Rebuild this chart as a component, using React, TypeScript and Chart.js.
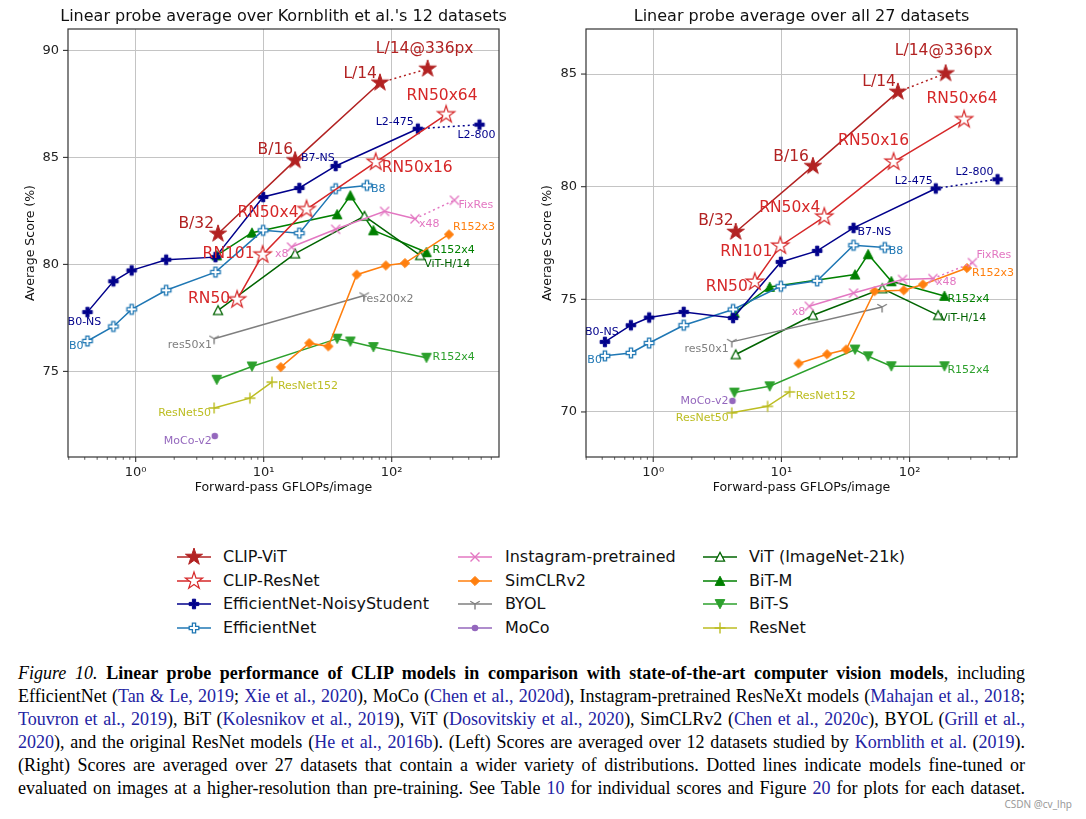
import React, { useEffect, useRef } from 'react';
import { Chart, registerables } from 'chart.js';
Chart.register(...registerables);

// ---------------- data (GFLOPs and average linear-probe scores) ----------------
const clipVitFlops = [4.4, 17.6, 81, 191];
const clipVitK12 = [81.43, 84.86, 88.49, 89.14];
const clipVitA27 = [77.99, 80.91, 84.21, 85.03];

const clipResFlops = [6.2, 9.8, 21.6, 75, 266];
const clipResK12 = [78.35, 80.45, 82.57, 84.78, 87.0];
const clipResA27 = [75.77, 77.37, 78.66, 81.1, 82.98];

const effNsFlops = [0.42, 0.67, 0.93, 1.73, 4.2, 9.9, 19, 36.5, 160, 485];
const effNsK12 = [77.77, 79.21, 79.72, 80.22, 80.34, 83.15, 83.57, 84.6, 86.34, 86.53];
const effNsA27 = [73.11, 73.85, 74.19, 74.44, 74.17, 76.66, 77.15, 78.17, 79.92, 80.33];

const effFlops = [0.42, 0.67, 0.93, 1.73, 4.2, 9.9, 19, 36.5, 64];
const effK12 = [76.42, 77.1, 77.9, 78.79, 79.64, 81.59, 81.46, 83.54, 83.69];
const effA27 = [72.49, 72.62, 73.06, 73.85, 74.55, 75.58, 75.82, 77.4, 77.3];

const igFlops = [16.5, 36.5, 88, 152, 309];
const igK12 = [80.81, 81.64, 82.48, 82.13, 83.0];
const igA27 = [74.69, 75.28, 75.88, 75.92, 76.63];

const simclrFlops = [13.6, 22.7, 32, 53.3, 90, 127, 280];
const simclrK12 = [75.2, 76.32, 76.17, 79.52, 79.95, 80.06, 81.4];
const simclrA27 = [72.15, 72.56, 72.77, 75.36, 75.4, 75.66, 76.39];

const byolFlops = [4.1, 61];
const byolK12 = [76.53, 78.55];
const byolA27 = [73.11, 74.66];

const mocoFlops = [4.15];
const mocoK12 = [71.98];
const mocoA27 = [70.49];

const vitFlops = [4.4, 17.6, 61.3, 167];
const vitK12 = [77.85, 80.5, 82.26, 80.42];
const vitA27 = [72.55, 74.29, 75.48, 74.29];

const bitFlops = [4.3, 8.1, 37.5, 47.5, 72, 187];
const bitMK12 = [80.42, 81.48, 82.34, 83.22, 81.59, 80.57];
const bitMA27 = [74.4, 75.55, 76.1, 77.0, 75.8, 75.15];
const bitSK12 = [74.61, 75.23, 76.53, 76.4, 76.14, 75.64];
const bitSA27 = [70.86, 71.14, 72.77, 72.47, 72.03, 72.03];

const resnetFlops = [4.1, 7.8, 11.6];
const resnetK12 = [73.29, 73.75, 74.5];
const resnetA27 = [69.96, 70.25, 70.89];

const yTicksK12 = [75, 80, 85, 90];
const yTicksA27 = [70, 75, 80, 85];
const xMajorTicks = [1, 10, 100];
const xMajorLabels = ['10\u2070', '10\u00b9', '10\u00b2'];

const titleK12 = "Linear probe average over Kornblith et al.'s 12 datasets";
const titleA27 = 'Linear probe average over all 27 datasets';
const xTitle = 'Forward-pass GFLOPs/image';
const yTitle = 'Average Score (%)';

// ---------------- series definitions ----------------
const SERIES = [
  { key: 'clipVit', name: 'CLIP-ViT', color: '#b22222', marker: 'starFilled', flops: clipVitFlops, k12: clipVitK12, a27: clipVitA27, dotted: true },
  { key: 'clipRes', name: 'CLIP-ResNet', color: '#d62728', marker: 'starHollow', flops: clipResFlops, k12: clipResK12, a27: clipResA27, dotted: false },
  { key: 'effNs', name: 'EfficientNet-NoisyStudent', color: '#00008b', marker: 'plusFilled', flops: effNsFlops, k12: effNsK12, a27: effNsA27, dotted: true },
  { key: 'eff', name: 'EfficientNet', color: '#1f77b4', marker: 'plusHollow', flops: effFlops, k12: effK12, a27: effA27, dotted: false },
  { key: 'ig', name: 'Instagram-pretrained', color: '#e377c2', marker: 'x', flops: igFlops, k12: igK12, a27: igA27, dotted: true },
  { key: 'simclr', name: 'SimCLRv2', color: '#ff7f0e', marker: 'diamond', flops: simclrFlops, k12: simclrK12, a27: simclrA27, dotted: false },
  { key: 'byol', name: 'BYOL', color: '#7f7f7f', marker: 'tri', flops: byolFlops, k12: byolK12, a27: byolA27, dotted: false },
  { key: 'moco', name: 'MoCo', color: '#9467bd', marker: 'circle', flops: mocoFlops, k12: mocoK12, a27: mocoA27, dotted: false },
  { key: 'vit', name: 'ViT (ImageNet-21k)', color: '#006400', marker: 'triUpHollow', flops: vitFlops, k12: vitK12, a27: vitA27, dotted: false },
  { key: 'bitM', name: 'BiT-M', color: '#008000', marker: 'triUp', flops: bitFlops, k12: bitMK12, a27: bitMA27, dotted: false },
  { key: 'bitS', name: 'BiT-S', color: '#2ca02c', marker: 'triDown', flops: bitFlops, k12: bitSK12, a27: bitSA27, dotted: false },
  { key: 'resnet', name: 'ResNet', color: '#bcbd22', marker: 'plus', flops: resnetFlops, k12: resnetK12, a27: resnetA27, dotted: false },
];

const LEGEND_COLS = [
  ['clipVit', 'clipRes', 'effNs', 'eff'],
  ['ig', 'simclr', 'byol', 'moco'],
  ['vit', 'bitM', 'bitS', 'resnet'],
];

// point annotations: [series, point index, text, align, dx, dy]
const LABELS_K12: any[] = [
  ['clipVit', 0, 'B/32', 'right', -4, -10],
  ['clipVit', 1, 'B/16', 'right', -2, -10],
  ['clipVit', 2, 'L/14', 'right', -3, -9],
  ['clipVit', 3, 'L/14@336px', 'center', -3, -20],
  ['clipRes', 0, 'RN50', 'right', -7, -1],
  ['clipRes', 1, 'RN101', 'right', -8, -1],
  ['clipRes', 2, 'RN50x4', 'right', -8, 4],
  ['clipRes', 3, 'RN50x16', 'left', 6, 6],
  ['clipRes', 4, 'RN50x64', 'center', -4, -19],
  ['effNs', 0, 'B0-NS', 'center', -3, 10],
  ['effNs', 7, 'B7-NS', 'right', -1, -8],
  ['effNs', 8, 'L2-475', 'right', -4, -7],
  ['effNs', 9, 'L2-800', 'center', -3, 10],
  ['eff', 0, 'B0', 'right', -4, 5],
  ['eff', 8, 'B8', 'left', 4, 4],
  ['ig', 0, 'x8', 'right', -3, 7],
  ['ig', 3, 'x48', 'left', 4, 5],
  ['ig', 4, 'FixRes', 'left', 4, 5],
  ['simclr', 6, 'R152x3', 'left', 4, -7],
  ['byol', 0, 'res50x1', 'right', -2, 6],
  ['byol', 1, 'res200x2', 'left', -2, 4],
  ['moco', 0, 'MoCo-v2', 'right', -3, 5],
  ['vit', 3, 'ViT-H/14', 'left', 4, 9],
  ['bitM', 5, 'R152x4', 'left', 6, -2],
  ['bitS', 5, 'R152x4', 'left', 6, -1],
  ['resnet', 0, 'ResNet50', 'right', -3, 5],
  ['resnet', 2, 'ResNet152', 'left', 6, 4],
];

const LABELS_A27: any[] = [
  ['clipVit', 0, 'B/32', 'right', -2, -11],
  ['clipVit', 1, 'B/16', 'right', -4, -9],
  ['clipVit', 2, 'L/14', 'right', -2, -10],
  ['clipVit', 3, 'L/14@336px', 'center', -2, -22],
  ['clipRes', 0, 'RN50', 'right', -7, 5],
  ['clipRes', 1, 'RN101', 'right', -8, 6],
  ['clipRes', 2, 'RN50x4', 'right', -4, -9],
  ['clipRes', 3, 'RN50x16', 'center', -20, -21],
  ['clipRes', 4, 'RN50x64', 'center', -2, -21],
  ['effNs', 0, 'B0-NS', 'center', -3, -10],
  ['effNs', 7, 'B7-NS', 'left', 4, 4],
  ['effNs', 8, 'L2-475', 'right', -3, -7],
  ['effNs', 9, 'L2-800', 'right', -4, -7],
  ['eff', 0, 'B0', 'right', -3, 4],
  ['eff', 8, 'B8', 'left', 4, 4],
  ['ig', 0, 'x8', 'right', -4, 6],
  ['ig', 3, 'x48', 'left', 3, 4],
  ['ig', 4, 'FixRes', 'left', 4, -7],
  ['simclr', 6, 'R152x3', 'left', 5, 5],
  ['byol', 0, 'res50x1', 'right', -3, 7],
  ['moco', 0, 'MoCo-v2', 'right', -4, 0],
  ['vit', 3, 'ViT-H/14', 'left', 2, 3],
  ['bitM', 5, 'R152x4', 'left', 3, 3],
  ['bitS', 5, 'R152x4', 'left', 3, 4],
  ['resnet', 0, 'ResNet50', 'right', -3, 5],
  ['resnet', 2, 'ResNet152', 'left', 6, 4],
];

// ---------------- markers ----------------
const FONT = "'DejaVu Sans', sans-serif";

function drawMarker(ctx: CanvasRenderingContext2D, kind: string, cx: number, cy: number, color: string) {
  ctx.save();
  ctx.strokeStyle = color;
  ctx.fillStyle = color;
  ctx.lineWidth = 1;
  ctx.lineJoin = 'miter';
  ctx.setLineDash([]);
  const star = (R: number) => {
    const r = R * 0.382;
    ctx.beginPath();
    for (let k = 0; k < 10; k++) {
      const a = -Math.PI / 2 + (k * Math.PI) / 5;
      const rad = k % 2 === 0 ? R : r;
      ctx.lineTo(cx + rad * Math.cos(a), cy + rad * Math.sin(a));
    }
    ctx.closePath();
  };
  const plusPath = (h: number) => {
    const t = h / 3;
    ctx.beginPath();
    const pts = [[-t, -h], [t, -h], [t, -t], [h, -t], [h, t], [t, t], [t, h], [-t, h], [-t, t], [-h, t], [-h, -t], [-t, -t]];
    pts.forEach(([x, y], i) => (i === 0 ? ctx.moveTo(cx + x, cy + y) : ctx.lineTo(cx + x, cy + y)));
    ctx.closePath();
  };
  const poly = (pts: number[][]) => {
    ctx.beginPath();
    pts.forEach(([x, y], i) => (i === 0 ? ctx.moveTo(cx + x, cy + y) : ctx.lineTo(cx + x, cy + y)));
    ctx.closePath();
  };
  switch (kind) {
    case 'starFilled':
      star(9); ctx.fill(); ctx.stroke(); break;
    case 'starHollow':
      star(9); ctx.fillStyle = '#fff'; ctx.fill(); ctx.lineWidth = 1.2; ctx.stroke(); break;
    case 'plusFilled':
      plusPath(4.8); ctx.fill(); ctx.stroke(); break;
    case 'plusHollow':
      plusPath(4.8); ctx.fillStyle = '#fff'; ctx.fill(); ctx.lineWidth = 1.3; ctx.stroke(); break;
    case 'x':
      ctx.lineWidth = 1.4; ctx.beginPath();
      ctx.moveTo(cx - 4.5, cy - 4.5); ctx.lineTo(cx + 4.5, cy + 4.5);
      ctx.moveTo(cx + 4.5, cy - 4.5); ctx.lineTo(cx - 4.5, cy + 4.5); ctx.stroke(); break;
    case 'plus':
      ctx.lineWidth = 1.4; ctx.beginPath();
      ctx.moveTo(cx - 5.5, cy); ctx.lineTo(cx + 5.5, cy);
      ctx.moveTo(cx, cy - 5.5); ctx.lineTo(cx, cy + 5.5); ctx.stroke(); break;
    case 'diamond':
      poly([[0, -4.6], [4.6, 0], [0, 4.6], [-4.6, 0]]); ctx.fill(); ctx.stroke(); break;
    case 'tri': {
      const r = 5.5;
      ctx.lineWidth = 1.4; ctx.beginPath();
      ctx.moveTo(cx, cy); ctx.lineTo(cx, cy + r);
      ctx.moveTo(cx, cy); ctx.lineTo(cx - 0.866 * r, cy - 0.5 * r);
      ctx.moveTo(cx, cy); ctx.lineTo(cx + 0.866 * r, cy - 0.5 * r); ctx.stroke(); break;
    }
    case 'circle':
      ctx.beginPath(); ctx.arc(cx, cy, 3.3, 0, Math.PI * 2); ctx.fill(); break;
    case 'triUpHollow':
      poly([[0, -4.6], [4.6, 4.2], [-4.6, 4.2]]); ctx.fillStyle = '#fff'; ctx.fill(); ctx.lineWidth = 1.2; ctx.stroke(); break;
    case 'triUp':
      poly([[0, -4.8], [4.8, 4.4], [-4.8, 4.4]]); ctx.fill(); ctx.stroke(); break;
    case 'triDown':
      poly([[0, 4.8], [4.8, -4.4], [-4.8, -4.4]]); ctx.fill(); ctx.stroke(); break;
  }
  ctx.restore();
}

function markerCanvas(kind: string, color: string) {
  const c = document.createElement('canvas');
  c.width = 24;
  c.height = 24;
  const ctx = c.getContext('2d')!;
  drawMarker(ctx, kind, 12, 12, color);
  return c;
}

// ---------------- plugins ----------------
function decorPlugin(cfg: any) {
  return {
    id: 'decor',
    afterDatasetsDraw(chart: any) {
      const ctx = chart.ctx;
      ctx.save();
      for (const [key, idx, text, align, dx, dy] of cfg.labels) {
        const si = SERIES.findIndex((s) => s.key === key);
        const meta = chart.getDatasetMeta(si);
        const pt = meta.data[idx];
        if (!pt) continue;
        const big = key === 'clipVit' || key === 'clipRes';
        ctx.font = `${big ? 15.5 : 11}px ${FONT}`;
        ctx.fillStyle = SERIES[si].color;
        ctx.textAlign = align;
        ctx.textBaseline = 'middle';
        ctx.fillText(text, pt.x + dx, pt.y + dy);
      }
      ctx.restore();
    },
    afterDraw(chart: any) {
      const ctx = chart.ctx;
      const a = chart.chartArea;
      const xs = chart.scales.x;
      const ys = chart.scales.y;
      ctx.save();
      // frame
      ctx.strokeStyle = '#333';
      ctx.lineWidth = 1.2;
      ctx.strokeRect(a.left, a.top, a.right - a.left, a.bottom - a.top);
      // x ticks
      for (let d = -1; d <= 2; d++) {
        for (let m = 1; m <= 9; m++) {
          const v = m * Math.pow(10, d);
          if (v < xs.min || v > xs.max) continue;
          const px = xs.getPixelForValue(v);
          const len = m === 1 ? 5 : 2.8;
          ctx.lineWidth = m === 1 ? 1.1 : 0.8;
          ctx.beginPath();
          ctx.moveTo(px, a.bottom);
          ctx.lineTo(px, a.bottom + len);
          ctx.stroke();
        }
      }
      // y ticks
      ctx.lineWidth = 1.1;
      for (const v of cfg.yTicks) {
        const py = ys.getPixelForValue(v);
        ctx.beginPath();
        ctx.moveTo(a.left - 5, py);
        ctx.lineTo(a.left, py);
        ctx.stroke();
      }
      // titles
      ctx.fillStyle = '#111';
      ctx.font = `16px ${FONT}`;
      ctx.textAlign = 'center';
      ctx.textBaseline = 'middle';
      ctx.fillText(cfg.title, (a.left + a.right) / 2, 17);
      ctx.font = `12.5px ${FONT}`;
      ctx.fillText(xTitle, (a.left + a.right) / 2, 488);
      ctx.save();
      ctx.translate(cfg.yTitleX, (a.top + a.bottom) / 2);
      ctx.rotate(-Math.PI / 2);
      ctx.fillText(yTitle, 0, 0);
      ctx.restore();
      ctx.restore();
    },
  };
}

function buildChart(canvas: HTMLCanvasElement, cfg: any) {
  const datasets = SERIES.map((s) => {
    const vals = cfg.which === 'k12' ? s.k12 : s.a27;
    const n = s.flops.length;
    return {
      label: s.name,
      data: s.flops.map((f, i) => ({ x: f, y: vals[i] })),
      borderColor: s.color,
      backgroundColor: s.color,
      borderWidth: 1.5,
      pointStyle: markerCanvas(s.marker, s.color),
      pointRadius: 5,
      pointHoverRadius: 5,
      fill: false,
      tension: 0,
      segment: {
        borderDash: (ctx: any) => (s.dotted && ctx.p1DataIndex === n - 1 ? [2, 3] : undefined),
      },
    };
  });
  const xTickVals: number[] = [];
  for (let d = -1; d <= 2; d++) for (let m = 1; m <= 9; m++) {
    const v = m * Math.pow(10, d);
    if (v >= cfg.xMin && v <= cfg.xMax) xTickVals.push(v);
  }
  return new Chart(canvas, {
    type: 'line',
    data: { datasets } as any,
    options: {
      animation: false,
      responsive: false,
      maintainAspectRatio: false,
      events: [],
      layout: { padding: cfg.padding },
      plugins: { legend: { display: false }, tooltip: { enabled: false }, title: { display: false } },
      scales: {
        x: {
          type: 'logarithmic',
          min: cfg.xMin,
          max: cfg.xMax,
          afterFit: (s: any) => { s.height = cfg.xHeight; },
          afterBuildTicks: (s: any) => { s.ticks = xTickVals.map((v) => ({ value: v })); },
          ticks: {
            autoSkip: false,
            maxRotation: 0,
            padding: 8,
            color: '#222',
            font: { family: FONT, size: 13 },
            callback: (v: any) => {
              const i = xMajorTicks.indexOf(Number(v));
              return i >= 0 ? xMajorLabels[i] : '';
            },
          },
          grid: {
            drawTicks: false,
            lineWidth: 1,
            color: (c: any) => (c.tick && xMajorTicks.includes(c.tick.value) ? '#c4c4c4' : 'rgba(0,0,0,0)'),
          },
          border: { display: false },
        },
        y: {
          type: 'linear',
          min: cfg.yMin,
          max: cfg.yMax,
          afterFit: (s: any) => { s.width = cfg.yWidth; },
          afterBuildTicks: (s: any) => { s.ticks = cfg.yTicks.map((v: number) => ({ value: v })); },
          ticks: { padding: 9, color: '#222', font: { family: FONT, size: 13 }, callback: (v: any) => String(v) },
          grid: { drawTicks: false, lineWidth: 1, color: '#c4c4c4' },
          border: { display: false },
        },
      },
    } as any,
    plugins: [decorPlugin(cfg)],
  });
}

// ---------------- components ----------------
function PlotCanvas({ cfg, left, width }: any) {
  const ref = useRef<HTMLCanvasElement>(null);
  useEffect(() => {
    const ch = buildChart(ref.current!, cfg);
    return () => ch.destroy();
  }, []);
  return (
    <canvas ref={ref} width={width} height={500}
      style={{ position: 'absolute', left, top: 0, width, height: 500, display: 'block' }} />
  );
}

function LegendIcon({ s }: any) {
  const ref = useRef<HTMLCanvasElement>(null);
  useEffect(() => {
    const ctx = ref.current!.getContext('2d')!;
    ctx.clearRect(0, 0, 36, 22);
    ctx.strokeStyle = s.color;
    ctx.lineWidth = 1.5;
    ctx.beginPath();
    ctx.moveTo(1, 11);
    ctx.lineTo(35, 11);
    ctx.stroke();
    drawMarker(ctx, s.marker, 18, 11, s.color);
  }, []);
  return <canvas ref={ref} width={36} height={22} style={{ display: 'block' }} />;
}

const BLUE = '#2323a3';
const C = ({ children }: any) => <span style={{ color: BLUE }}>{children}</span>;

const captionLines = [
  <><i>Figure 10.</i> <b>Linear probe performance of CLIP models in comparison with state-of-the-art computer vision models</b>, including</>,
  <>EfficientNet (<C>Tan &amp; Le, 2019</C>; <C>Xie et al., 2020</C>), MoCo (<C>Chen et al., 2020d</C>), Instagram-pretrained ResNeXt models (<C>Mahajan et al., 2018</C>;</>,
  <><C>Touvron et al., 2019</C>), BiT (<C>Kolesnikov et al., 2019</C>), ViT (<C>Dosovitskiy et al., 2020</C>), SimCLRv2 (<C>Chen et al., 2020c</C>), BYOL (<C>Grill et al.,</C></>,
  <><C>2020</C>), and the original ResNet models (<C>He et al., 2016b</C>). (Left) Scores are averaged over 12 datasets studied by <C>Kornblith et al.</C> (<C>2019</C>).</>,
  <>(Right) Scores are averaged over 27 datasets that contain a wider variety of distributions. Dotted lines indicate models fine-tuned or</>,
  <>evaluated on images at a higher-resolution than pre-training. See Table <C>10</C> for individual scores and Figure <C>20</C> for plots for each dataset.</>,
];

export default function App() {
  const cfgK12 = {
    which: 'k12', title: titleK12, yTicks: yTicksK12, yMin: 71, yMax: 91,
    xMin: 0.296, xMax: 689, padding: { left: 0, top: 29, right: 41, bottom: 0 },
    yWidth: 68, xHeight: 43, yTitleX: 31, labels: LABELS_K12,
  };
  const cfgA27 = {
    which: 'a27', title: titleA27, yTicks: yTicksA27, yMin: 68, yMax: 87,
    xMin: 0.299, xMax: 688, padding: { left: 0, top: 29, right: 69, bottom: 0 },
    yWidth: 46, xHeight: 43, yTitleX: 8, labels: LABELS_A27,
  };
  const colText = [223, 505, 749];
  const colIcon = [176, 457, 702];
  return (
    <div style={{ position: 'absolute', left: 0, top: 0, width: 1086, height: 819, background: '#fff', overflow: 'hidden' }}>
      <PlotCanvas cfg={cfgK12} left={0} width={540} />
      <PlotCanvas cfg={cfgA27} left={540} width={546} />
      {LEGEND_COLS.map((col, ci) =>
        col.map((key, ri) => {
          const s = SERIES.find((q) => q.key === key)!;
          const cy = 557 + ri * 23.7;
          return (
            <React.Fragment key={key}>
              <div style={{ position: 'absolute', left: colIcon[ci], top: cy - 11 }}>
                <LegendIcon s={s} />
              </div>
              <div style={{ position: 'absolute', left: colText[ci], top: cy - 10, height: 20, lineHeight: '20px', fontFamily: FONT, fontSize: 16, color: '#111', whiteSpace: 'nowrap' }}>
                {s.name}
              </div>
            </React.Fragment>
          );
        })
      )}
      {captionLines.map((ln, i) => (
        <div key={i} style={{
          position: 'absolute', left: 18, top: 673 + i * 23 - 11.5, width: 1007, height: 23, lineHeight: '23px',
          fontFamily: "'Liberation Serif', 'Times New Roman', serif", fontSize: 18, color: '#000',
          textAlign: 'justify', textAlignLast: 'justify' as any,
        }}>{ln}</div>
      ))}
      <div style={{ position: 'absolute', right: 14, top: 797, fontFamily: "'Noto Sans', sans-serif", fontSize: 10, color: '#9a9a9a' }}>
        CSDN @cv_lhp
      </div>
    </div>
  );
}
